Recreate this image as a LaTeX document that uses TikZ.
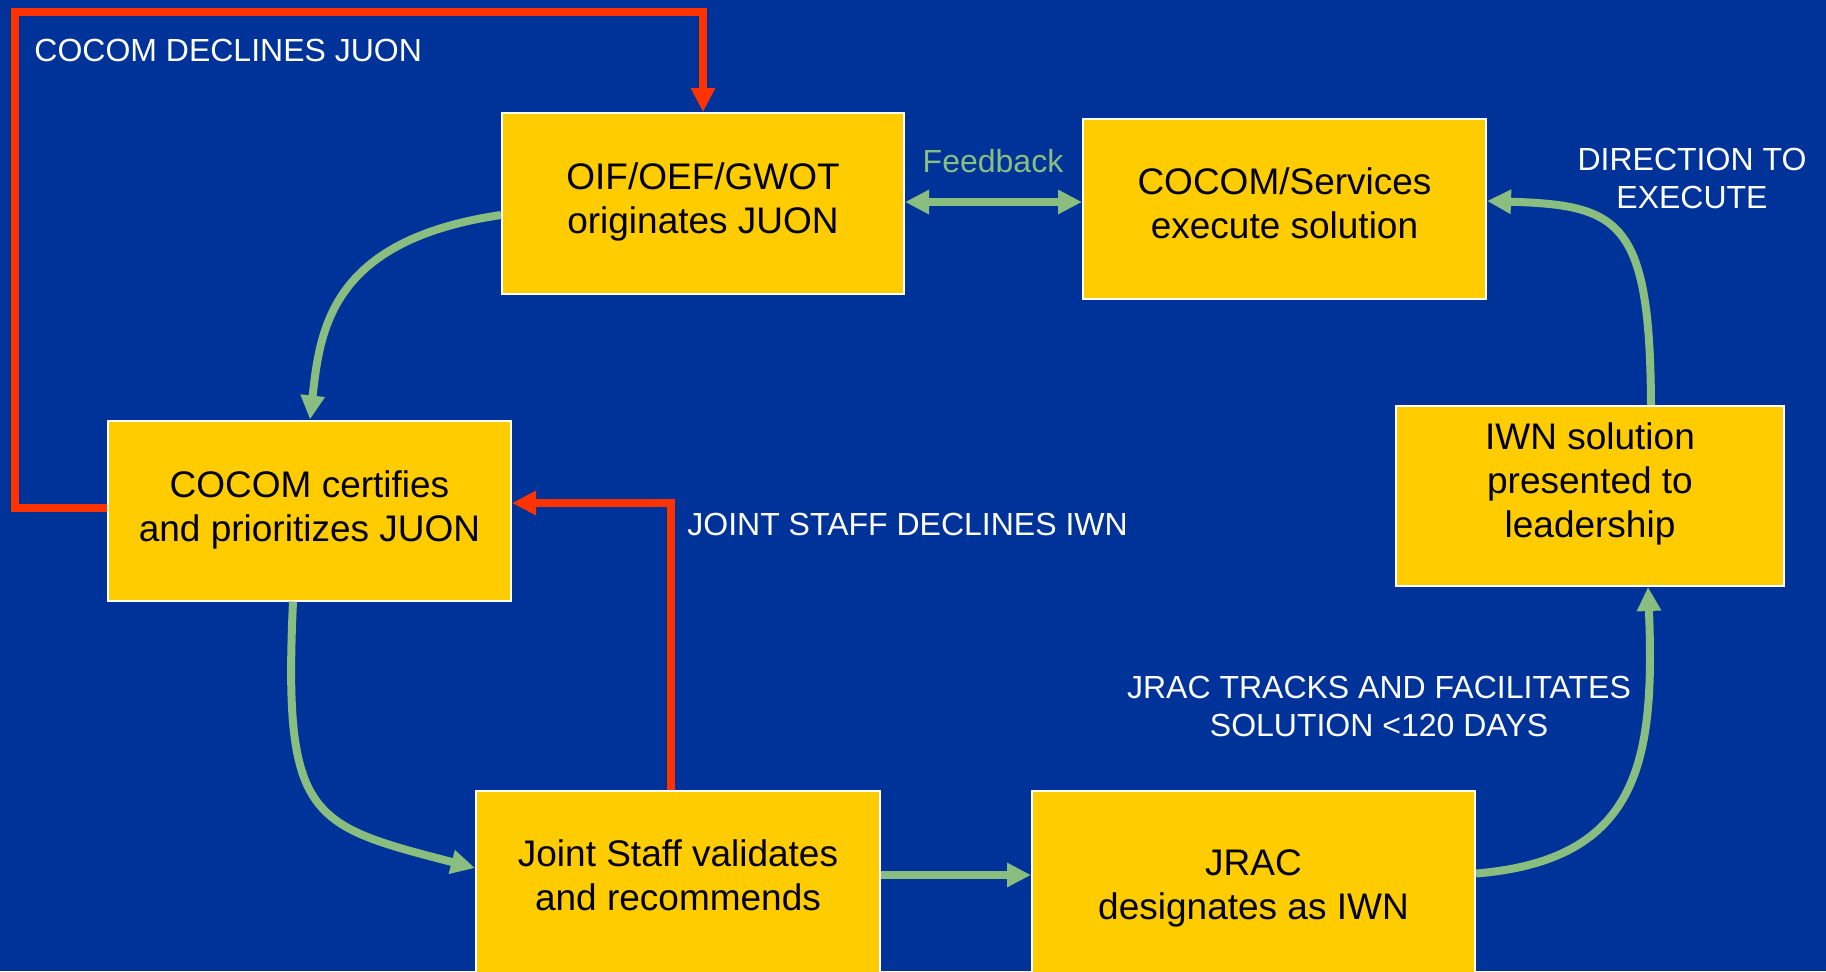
\documentclass[tikz,border=0pt]{standalone}
\usepackage{fontspec}
\setmainfont{Liberation Sans}
\usetikzlibrary{arrows.meta,calc}
\definecolor{bgblue}{RGB}{0,51,153}
\definecolor{boxyellow}{RGB}{255,204,0}
\definecolor{flowgreen}{RGB}{138,190,128}
\definecolor{declinered}{RGB}{255,51,0}
\begin{document}
\begin{tikzpicture}[x=0.5pt,y=-0.5pt,
  stepbox/.style={draw=white,line width=1pt,fill=boxyellow,inner sep=0pt,text=black,
    font=\fontsize{18.5pt}{22pt}\selectfont},
  lbl/.style={text=white,font=\fontsize{16pt}{19pt}\selectfont,inner sep=0pt,align=center},
  tipend/.style={-{Triangle[length=12pt,width=11.5pt]}},
  flow/.style={draw=flowgreen,line width=4pt,tipend},
  decline/.style={draw=declinered,line width=4pt,tipend}]
\useasboundingbox (0,0) rectangle (1826,971);
\fill[bgblue] (0,0) rectangle (1826,971);

% boxes
\node[stepbox,minimum width=201pt,minimum height=90.5pt] (oif) at (703,203.5)
  {\begin{tabular}{@{}c@{}}OIF/OEF/GWOT\\originates JUON\\[0.6pt]\end{tabular}};
\node[stepbox,minimum width=201.5pt,minimum height=90pt] (cs) at (1284.5,209)
  {\begin{tabular}{@{}c@{}}COCOM/Services\\execute solution\\[1.6pt]\end{tabular}};
\node[stepbox,minimum width=201.5pt,minimum height=90pt] (cert) at (309.5,510.5)
  {\begin{tabular}{@{}c@{}}COCOM certifies\\and prioritizes JUON\\[0.3pt]\end{tabular}};
\node[stepbox,minimum width=194pt,minimum height=90pt] (iwn) at (1590,496)
  {\begin{tabular}{@{}c@{}}IWN solution\\presented to\\leadership\\[11pt]\end{tabular}};
\node[stepbox,minimum width=202pt,minimum height=92pt] (js) at (678,883)
  {\begin{tabular}{@{}c@{}}Joint Staff validates\\and recommends\\[3.6pt]\end{tabular}};
\node[stepbox,minimum width=221.5pt,minimum height=92pt] (jrac) at (1253.5,883)
  {\begin{tabular}{@{}c@{}}\rule{0pt}{21.3pt}JRAC\\designates as IWN\end{tabular}};

% labels
\node[lbl,anchor=west] (l1) at (34,50) {COCOM DECLINES JUON};
\node[lbl,text=flowgreen] (l2) at (993,161) {Feedback};
\node[lbl] (l3) at (1692,178) {DIRECTION TO\\EXECUTE};
\node[lbl,anchor=west] (l4) at (687,524) {JOINT STAFF DECLINES IWN};
\node[lbl] (l5) at (1379,706) {JRAC TRACKS AND FACILITATES\\SOLUTION <120 DAYS};

% red decline connectors
\coordinate (ctop) at (15,12);
\coordinate (cleft) at (15,508);
\draw[decline] (cert.west |- cleft) -- (cleft) |- (ctop) -| (oif.north);
\coordinate (jsd) at (671,503);
\draw[decline] (js.north -| jsd) |- (cert.east |- jsd);

% green flow connectors
\draw[flow] ($(oif.west)+(0,11.5)$) .. controls (330,240) and (320,330) .. ($(cert.north)+(0.5,0)$);
\draw[flow] ($(cert.south)+(-16.5,0)$) .. controls (283,820) and (310,825) .. ($(js.west)+(0,-15)$);
\draw[flow] ($(js.east)+(0,-8)$) -- ($(jrac.west)+(0,-8)$);
\draw[flow] ($(jrac.east)+(0,-9.5)$) .. controls (1640,860) and (1655,760) .. ($(iwn.south)+(58,0)$);
\draw[flow] ($(iwn.north)+(61,0)$) .. controls (1650,220) and (1620,205) .. ($(cs.east)+(0,-8)$);
\draw[flow,{Triangle[length=12pt,width=11.5pt]}-{Triangle[length=12pt,width=11.5pt]}]
  ($(oif.east)+(0,-1.5)$) -- ($(cs.west)+(0,-7)$);
\end{tikzpicture}
\end{document}
